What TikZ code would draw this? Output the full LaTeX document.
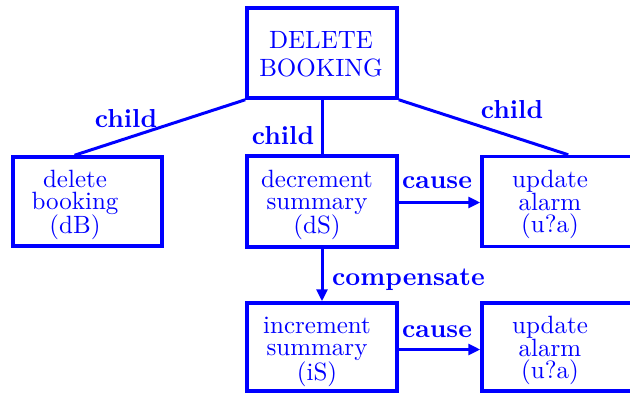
\documentclass[tikz,border=0pt]{standalone}
\usepackage{fontspec}
% ten-point design size of Latin Modern, scaled up
\setmainfont{lmroman10-regular.otf}[BoldFont=lmroman10-bold.otf]
\usetikzlibrary{arrows.meta,calc}
\begin{document}
\begin{tikzpicture}[x=1pt,y=-1pt,
  box/.style={draw=blue,line width=3.5pt,rectangle,inner sep=0pt},
  txt/.style={text=blue,align=center,inner sep=0pt,anchor=north,
    font=\fontsize{25}{22}\selectfont},
  lbl/.style={text=blue,inner sep=0pt,anchor=base,
    font=\fontsize{26}{30}\selectfont\bfseries},
  link/.style={draw=blue,line width=3pt},
  flow/.style={link,-{Triangle[length=12pt,width=11pt]}}]
\useasboundingbox (0,0) rectangle (630,392);
\clip (0,0) rectangle (630,392);

% boxes
\node[box,minimum width=150pt,minimum height=90pt] (top) at (322,53) {};
\node[box,minimum width=149pt,minimum height=89pt] (dB) at (87.5,201.5) {};
\node[box,minimum width=150pt,minimum height=91pt] (dS) at (322,201.5) {};
\node[box,minimum width=160pt,minimum height=90pt] (uA1) at (562,201.5) {};
\node[box,minimum width=150pt,minimum height=88pt] (iS) at (322,347) {};
\node[box,minimum width=160pt,minimum height=88pt] (uA2) at (562,347) {};

% box texts
\node[txt,font=\fontsize{25}{28}\selectfont] (topT) at (321,30.9) {DELETE\\BOOKING};
\node[txt] (dBT) at (75,169.5) {delete\\booking\\(dB)};
\node[txt] (dST) at (317,169.5) {decrement\\summary\\(dS)};
\node[txt] (uA1T) at (550,169.5) {update\\alarm\\(u?a)};
\node[txt] (iST) at (317,316.5) {increment\\summary\\(iS)};
\node[txt] (uA2T) at (550,315.5) {update\\alarm\\(u?a)};

% hierarchy
\coordinate (dBtop) at ($(dB.north)+(-13pt,0)$);
\coordinate (uA1top) at ($(uA1.north west)+(88pt,0)$);
\draw[link] (top.south west) -- (dBtop);
\draw[link] (top.south) -- (dS.north);
\draw[link] (top.south east) -- (uA1top);

% causal and compensation arrows
\draw[flow] ([yshift=-1pt]dS.east) -- ([yshift=-1pt]dS.east -| uA1.west);
\draw[flow] ([yshift=-2.5pt]iS.east) -- ([yshift=-2.5pt]iS.east -| uA2.west);
\draw[flow] (dS.south) -- (iS.north);

% labels
\node[lbl] (c1) at (126,127) {child};
\node[lbl] (c2) at (283,144) {child};
\node[lbl] (c3) at (512,118) {child};
\node[lbl] (k1) at (437,188) {cause};
\node[lbl] (k2) at (437,337) {cause};
\node[lbl,anchor=base west] (cp) at (332,285) {compensate};
\end{tikzpicture}
\end{document}
